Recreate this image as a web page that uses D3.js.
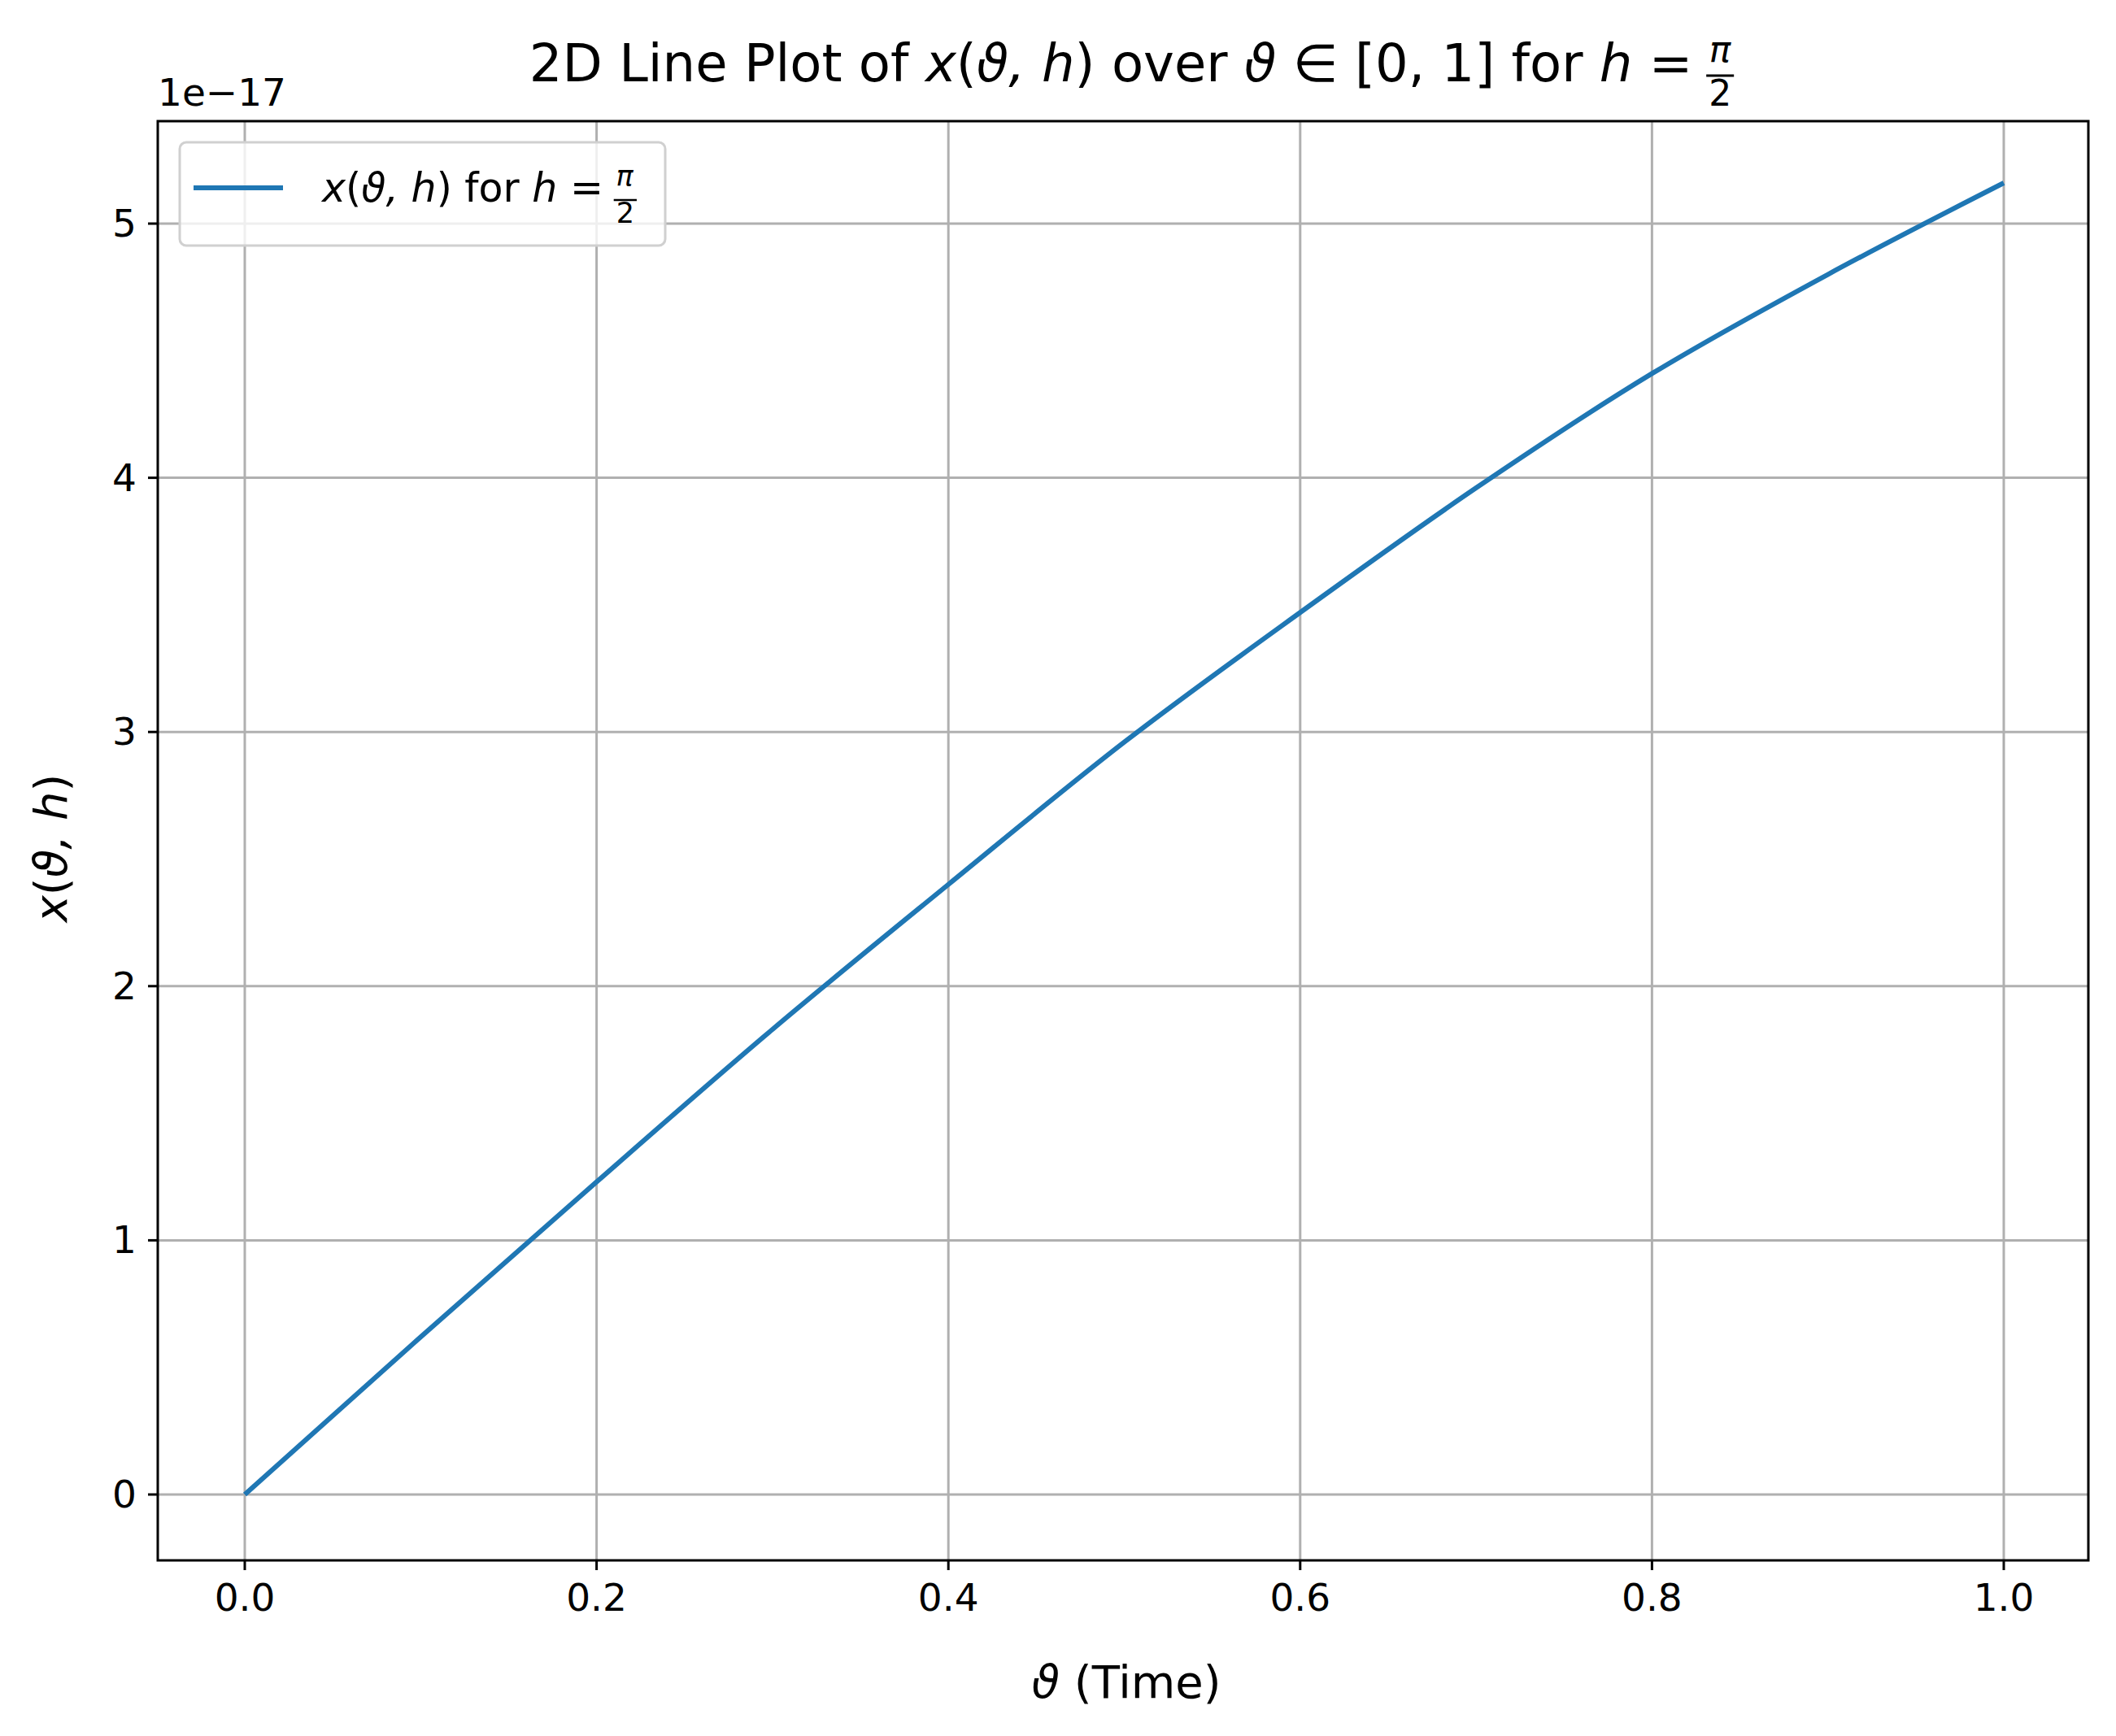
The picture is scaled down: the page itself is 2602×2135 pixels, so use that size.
<!DOCTYPE html>
<html><head><meta charset="utf-8">
<script src="https://cdn.jsdelivr.net/npm/d3@7"></script>
<style>body{margin:0;background:#fff}text{font-family:"DejaVu Sans",sans-serif}</style>
</head><body><svg id="chart" width="2602" height="2135"></svg>
<script>
const thetas = [0, 0.1, 0.2, 0.3, 0.4, 0.5, 0.6, 0.7, 0.8, 0.9, 1.0];
const values = [0, 0.62, 1.23, 1.83, 2.40, 2.96, 3.47, 3.96, 4.41, 4.80, 5.16];
const xTicks = [0, 0.2, 0.4, 0.6, 0.8, 1.0];
const yTicks = [0, 1, 2, 3, 4, 5];

const svg = d3.select('#chart');
const L = 194, R = 2568, T = 149, B = 1919;
const x = d3.scaleLinear().domain([0, 1]).range([301, 2464]);
const y = d3.scaleLinear().domain([0, 5]).range([1838, 275]);

const g = svg.append('g');
// grid
g.selectAll('.gx').data(xTicks).join('line')
    .attr('x1', d => x(d)).attr('x2', d => x(d)).attr('y1', T).attr('y2', B)
    .attr('stroke', '#b0b0b0').attr('stroke-width', 3);
g.selectAll('.gy').data(yTicks).join('line')
    .attr('y1', d => y(d)).attr('y2', d => y(d)).attr('x1', L).attr('x2', R)
    .attr('stroke', '#b0b0b0').attr('stroke-width', 3);

// line
g.append('path')
    .datum(thetas.map((t, i) => [t, values[i]]))
    .attr('fill', 'none').attr('stroke', '#1f77b4').attr('stroke-width', 6)
    .attr('d', d3.line().x(d => x(d[0])).y(d => y(d[1])).curve(d3.curveMonotoneX));

// frame
g.append('rect').attr('x', L).attr('y', T).attr('width', R - L).attr('height', B - T)
    .attr('fill', 'none').attr('stroke', '#000').attr('stroke-width', 3);

// ticks
g.selectAll('.tx').data(xTicks).join('line')
    .attr('x1', d => x(d)).attr('x2', d => x(d)).attr('y1', B).attr('y2', B + 12)
    .attr('stroke', '#000').attr('stroke-width', 3);
g.selectAll('.lx').data(xTicks).join('text')
    .attr('x', d => x(d)).attr('y', B + 62).attr('text-anchor', 'middle')
    .attr('font-size', 47).text(d => d.toFixed(1));
g.selectAll('.ty').data(yTicks).join('line')
    .attr('x1', L - 12).attr('x2', L).attr('y1', d => y(d)).attr('y2', d => y(d))
    .attr('stroke', '#000').attr('stroke-width', 3);
g.selectAll('.ly').data(yTicks).join('text')
    .attr('x', L - 26).attr('y', d => y(d) + 16).attr('text-anchor', 'end')
    .attr('font-size', 47).text(d => d);
g.append('text').attr('x', L).attr('y', 130).attr('font-size', 47).text('1e\u221217');

// title
const title = svg.append('text').attr('x', 1390).attr('y', 100).attr('text-anchor', 'middle').attr('font-size', 64);
title.append('tspan').text('2D Line Plot of ');
title.append('tspan').attr('font-style', 'italic').text('x');
title.append('tspan').text('(');
title.append('tspan').attr('font-style', 'italic').text('\u03d1, h');
title.append('tspan').text(') over ');
title.append('tspan').attr('font-style', 'italic').text('\u03d1');
title.append('tspan').text(' \u2208 [0, 1] for ');
title.append('tspan').attr('font-style', 'italic').text('h');
title.append('tspan').text(' = ');
title.append('tspan').attr('font-style', 'italic').attr('font-size', 44).attr('dy', -24).text('\u03c0');
title.append('tspan').attr('font-size', 44).attr('dx', -27).attr('dy', 54).text('2');

// axis labels
const xl = svg.append('text').attr('x', 1385).attr('y', 2088).attr('text-anchor', 'middle').attr('font-size', 56);
xl.append('tspan').attr('font-style', 'italic').text('\u03d1');
xl.append('tspan').text(' (Time)');
const yl = svg.append('text').attr('transform', 'translate(82,1043) rotate(-90)').attr('text-anchor', 'middle').attr('font-size', 56);
yl.append('tspan').attr('font-style', 'italic').text('x');
yl.append('tspan').text('(');
yl.append('tspan').attr('font-style', 'italic').text('\u03d1, h');
yl.append('tspan').text(')');

// legend
const lg = svg.append('g');
lg.append('rect').attr('x', 221).attr('y', 175).attr('width', 597).attr('height', 127).attr('rx', 8)
    .attr('fill', 'rgba(255,255,255,0.8)').attr('stroke', '#d0d0d0').attr('stroke-width', 3);
lg.append('line').attr('x1', 238).attr('x2', 348).attr('y1', 231).attr('y2', 231)
    .attr('stroke', '#1f77b4').attr('stroke-width', 6);
const lt = lg.append('text').attr('x', 396).attr('y', 248).attr('font-size', 49);
lt.append('tspan').attr('font-style', 'italic').text('x');
lt.append('tspan').text('(');
lt.append('tspan').attr('font-style', 'italic').text('\u03d1, h');
lt.append('tspan').text(') for ');
lt.append('tspan').attr('font-style', 'italic').text('h');
lt.append('tspan').text(' = ');
lt.append('tspan').attr('font-style', 'italic').attr('font-size', 35).attr('dy', -19).text('\u03c0');
lt.append('tspan').attr('font-size', 35).attr('dx', -21).attr('dy', 45).text('2');

// fraction bars positioned from measured text
function fracBar(textSel, sw) {
    const nodes = textSel.selectAll('tspan').nodes();
    const b = nodes[nodes.length - 1].getBBox();
    svg.append('line').attr('x1', b.x - 3).attr('x2', b.x + b.width + 3)
        .attr('y1', b.y + 4).attr('y2', b.y + 4).attr('stroke', '#000').attr('stroke-width', sw);
}
fracBar(title, 3);
fracBar(lt, 2.5);
</script></body></html>
